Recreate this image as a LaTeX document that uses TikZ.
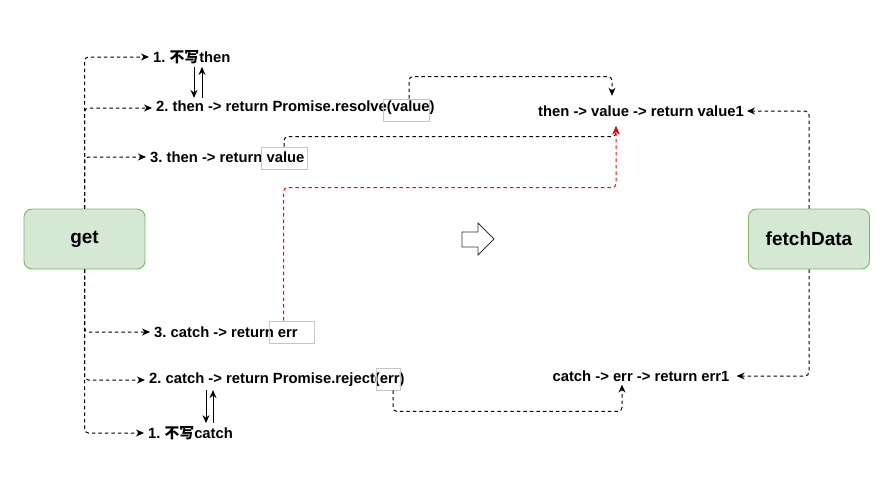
\documentclass[tikz,border=0pt]{standalone}
\usepackage{fontspec}
\setmainfont{Liberation Sans}
\newfontfamily\cjk{Noto Sans CJK SC}
\usetikzlibrary{arrows.meta}
\definecolor{funcfill}{HTML}{D5E8D4}
\definecolor{funcline}{HTML}{82B366}
\frenchspacing

\begin{document}
\begin{tikzpicture}[x=1pt,y=-1pt,
every node/.style={font=\bfseries\fontsize{14.8}{17}\selectfont,inner sep=3pt},
func/.style={draw=funcline,fill=funcfill,line width=0.9pt,rounded corners=8pt,minimum width=121pt,minimum height=60pt,font=\bfseries\fontsize{19}{22}\selectfont},
case/.style={anchor=west,inner xsep=4pt},
hlbox/.style={draw=gray!45,line width=0.9pt,inner sep=0pt,minimum height=22pt},
link/.style={dash pattern=on 3.5pt off 3pt,line width=1pt,rounded corners=4pt,-{Stealth[length=8pt,width=7pt]}},
errlink/.style={link,red},
swap/.style={line width=1pt,-{Stealth[length=8pt,width=7pt]}}
]
\useasboundingbox (0,0) rectangle (884,496);

% functions
\node[func] (get) at (84.5,239) {get};
\node[func] (fd) at (809,239) {fetchData};

% cases on the left
\node[case] (t1) at (149,57) {1. {\cjk 不写}then};
\node[case] (t2) at (152,108) {2. then -> return Promise.resolve(value)};
\node[case] (t3) at (146,157) {3. then -> return value};
\node[case] (c3) at (150,332) {3. catch -> return err};
\node[case] (c2) at (145,380) {2. catch -> return Promise.reject(err)};
\node[case] (c1) at (144,433) {1. {\cjk 不写}catch};

% results on the right
\node[minimum height=30pt] (res) at (641,111) {then -> value -> return value1};
\node[minimum height=16pt,inner xsep=7pt] (rej) at (641,376) {catch -> err -> return err1};

% marked parts
\node[hlbox,minimum width=46pt] (v2) at (406,110) {};
\node[hlbox,minimum width=46pt] (v3) at (284,158) {};
\node[hlbox,minimum width=45pt] (e3) at (291.5,332) {};
\node[hlbox,minimum width=24pt] (e2) at (388,379) {};

% hint arrow
\draw[line width=0.8pt,draw=black!80] (462,232) -- (478,232) -- (478,223) -- (494,239) -- (478,255) -- (478,247) -- (462,247) -- cycle;

\foreach \n in {t1,t2,t3} \draw[link] (get.north) |- (\n.west);
\foreach \n in {c3,c2,c1} \draw[link] (get.south) |- (\n.west);
\draw[link] (fd.north) |- (res.east);
\draw[link] (fd.south) |- (rej.east);

\draw[link] ([xshift=3pt]v2.north) -- ++(0,-22) -| ([xshift=-29pt]res.north);
\draw[link] (v3.north) -- ++(0,-10) -| ([xshift=-25pt]res.south);
\draw[errlink] ([xshift=-8pt]e3.north) -- ++(0,-133) -| ([xshift=-25pt]res.south); % <- red one
\draw[link] ([xshift=5pt]e2.south) -- ++(0,21) -| ([xshift=-19pt]rej.south);

% either way
\draw[swap] ([xshift=45pt]t1.south west) -- ([xshift=42pt]t2.north west);
\draw[swap] ([xshift=50pt]t2.north west) -- ([xshift=53pt]t1.south west);
\draw[swap] ([xshift=61pt]c2.south west) -- ([xshift=62pt]c1.north west);
\draw[swap] ([xshift=69pt]c1.north west) -- ([xshift=68pt]c2.south west);
\end{tikzpicture}
\end{document}
